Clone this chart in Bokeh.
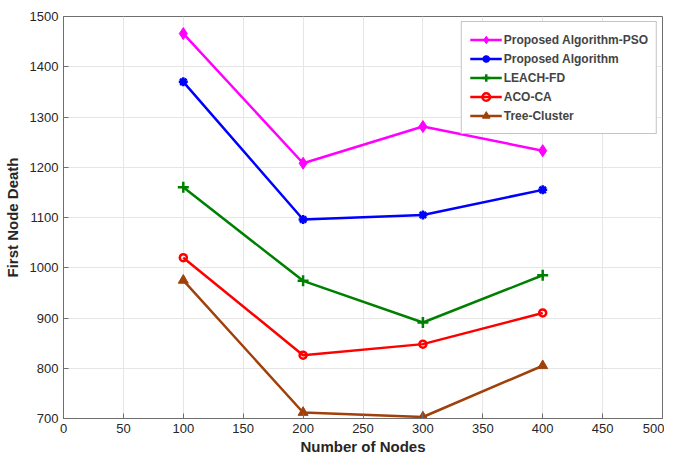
from bokeh.plotting import figure
from bokeh.embed import file_html
from bokeh.resources import INLINE
from bokeh.models import Range1d, FixedTicker

nodes = [100, 200, 300, 400]
pso = [1466, 1208, 1281, 1233]
proposed = [1370, 1096, 1105, 1155]
leach = [1160, 974, 891, 985]
aco = [1020, 826, 848, 910]
tree = [975, 712, 703, 805]

series = [
    ("Proposed Algorithm-PSO", pso, "#ff00ff", "diamond", 12),
    ("Proposed Algorithm", proposed, "#0000ff", "asterisk", 9),
    ("LEACH-FD", leach, "#008000", "cross", 11),
    ("ACO-CA", aco, "#ff0000", "circle", 7),
    ("Tree-Cluster", tree, "#a0400a", "triangle", 10),
]

p = figure(width=664, height=459, output_backend="svg", toolbar_location=None,
           x_range=Range1d(0, 500), y_range=Range1d(700, 1500),
           min_border_left=62, min_border_right=2, min_border_top=16, min_border_bottom=41)

FONT = "Liberation Sans"
for name, vals, col, mk, sz in series:
    p.line(nodes, vals, color=col, line_width=2.5, legend_label=name)
    if mk == "circle":
        p.scatter(nodes, vals, marker=mk, size=sz, line_color=col, fill_color=None,
                  line_width=2.5, legend_label=name)
    elif mk in ("cross", "asterisk"):
        p.scatter(nodes, vals, marker=mk, size=sz, line_color=col, line_width=2.5,
                  legend_label=name)
    else:
        p.scatter(nodes, vals, marker=mk, size=sz, line_color=col, fill_color=col,
                  line_width=1, legend_label=name)

p.xaxis.ticker = FixedTicker(ticks=list(range(0, 501, 50)))
p.yaxis.ticker = FixedTicker(ticks=list(range(700, 1501, 100)))
for ax in (p.xaxis, p.yaxis):
    ax.major_tick_in = 5
    ax.major_tick_out = 0
    ax.minor_tick_line_color = None
    ax.axis_line_color = "#6e6e6e"
    ax.major_tick_line_color = "#6e6e6e"
    ax.major_label_text_font = FONT
    ax.major_label_text_font_size = "13px"
    ax.major_label_text_color = "#262626"
    ax.axis_label_text_font = FONT
    ax.axis_label_text_font_size = "15px"
    ax.axis_label_text_font_style = "bold"
    ax.axis_label_text_color = "#262626"
p.xaxis.axis_label = "Number of Nodes"
p.yaxis.axis_label = "First Node Death"
p.xaxis.axis_label_standoff = 2
p.yaxis.axis_label_standoff = 6
p.xaxis.major_label_standoff = 5
p.yaxis.major_label_standoff = 5

p.xgrid.grid_line_color = "#e6e6e6"
p.ygrid.grid_line_color = "#e6e6e6"
p.outline_line_color = "#6e6e6e"
p.outline_line_width = 1

lg = p.legend[0]
lg.location = "top_right"
lg.margin = 5
lg.padding = 8
lg.spacing = 0
lg.label_height = 19
lg.glyph_height = 19
lg.glyph_width = 32
lg.label_standoff = 2
lg.label_text_font = FONT
lg.label_text_font_size = "12px"
lg.label_text_font_style = "bold"
lg.border_line_color = "#8a8a8a"
lg.border_line_width = 1.5
lg.background_fill_alpha = 1

open("out.html", "w").write(file_html(p, INLINE))
